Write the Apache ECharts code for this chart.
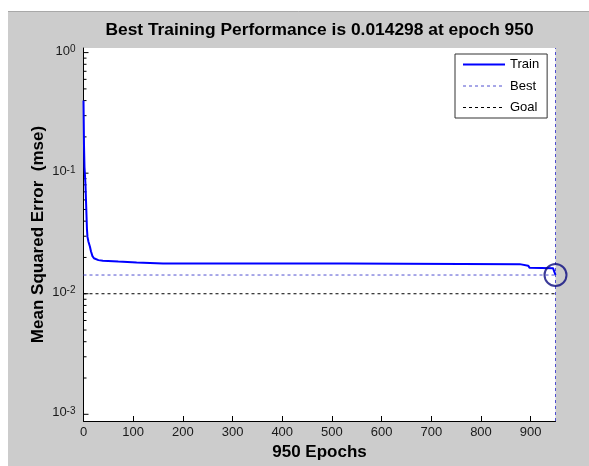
<!DOCTYPE html>
<html>
<head>
<meta charset="utf-8">
<script src="https://cdn.jsdelivr.net/npm/echarts@6/dist/echarts.min.js"></script>
<style>
  html, body { margin: 0; padding: 0; background: #ffffff; }
  #chart { width: 589px; height: 466px; }
</style>
</head>
<body>
<div id="chart"></div>
<script>
// Training record: epoch numbers and mean squared error at each one
const epochs   = [0, 1, 2, 3, 4, 5, 6, 7, 8, 10, 13, 15, 18, 21, 25, 30, 39, 70, 107, 160, 527, 530, 878, 882, 895, 898, 945, 950];
const trainMse = [0.40, 0.17, 0.112, 0.095, 0.080, 0.060, 0.045, 0.034, 0.0296, 0.027, 0.0245, 0.0225, 0.0205, 0.0197, 0.0192, 0.0190, 0.0188, 0.0185, 0.0182, 0.0178, 0.0178, 0.0176, 0.0176, 0.0171, 0.0171, 0.0164, 0.0163, 0.014298];

// Best epoch, goal and axis ranges
const bestEpoch = 950;
const bestMse = 0.014298;
const goalMse = 0.01;
const xRange = [0, 950];
const yRange = [0.00088, 1.092];
const xTickStep = 100;

// Tick marks on the log axis: decades and the 2..9 steps between them
const yDecades = [0.001, 0.01, 0.1, 1];
const yMinorSteps = [2, 3, 4, 5, 6, 7, 8, 9];

const FONT = "'Liberation Sans', Arial, Helvetica, sans-serif";

const trainData = epochs.map((e, i) => [e, trainMse[i]]);
const bestData = [[xRange[0], bestMse], [bestEpoch, bestMse], '-', [bestEpoch, yRange[0]], [bestEpoch, yRange[1]]];
const goalData = [[xRange[0], goalMse], [xRange[1], goalMse]];

const yTickData = [];
yDecades.forEach((d, i) => {
  yTickData.push([xRange[0], d, 1]);
  if (i < yDecades.length - 1) yMinorSteps.forEach(s => yTickData.push([xRange[0], d * s, 0]));
});

function isDecade(v) {
  const l = Math.log10(v);
  return Math.abs(l - Math.round(l)) < 1e-6;
}

const chart = echarts.init(document.getElementById('chart'), null, { renderer: 'canvas' });

chart.setOption({
  animation: false,
  backgroundColor: '#ffffff',
  textStyle: { fontFamily: FONT },
  graphic: [
    { type: 'rect', z: -10, silent: true, shape: { x: 8, y: 11, width: 581, height: 455 }, style: { fill: '#cccccc' } },
    { type: 'line', z: -9, silent: true, shape: { x1: 8, y1: 11.5, x2: 589, y2: 11.5 }, style: { stroke: '#a8a8a8', lineWidth: 1 } }
  ],
  title: {
    text: 'Best Training Performance is 0.014298 at epoch 950',
    left: 319.5,
    textAlign: 'center',
    top: 22,
    padding: 0,
    textStyle: { fontFamily: FONT, fontSize: 17.4, fontWeight: 'bold', color: '#000000' }
  },
  legend: {
    data: ['Train', 'Best', 'Goal'],
    orient: 'vertical',
    left: 455,
    top: 54,
    padding: [4, 8, 4, 7],
    itemWidth: 42,
    itemHeight: 14,
    itemGap: 8.5,
    backgroundColor: '#ffffff',
    borderColor: '#333333',
    borderWidth: 1,
    borderRadius: 0,
    itemStyle: { opacity: 0, borderWidth: 0 },
    lineStyle: { width: 'inherit' },
    textStyle: { fontFamily: FONT, fontSize: 13, color: '#000000' }
  },
  grid: {
    left: 83.5,
    top: 48,
    width: 472,
    height: 373,
    show: true,
    backgroundColor: '#ffffff',
    borderWidth: 0
  },
  xAxis: {
    type: 'value',
    min: xRange[0],
    max: xRange[1],
    interval: xTickStep,
    name: '950 Epochs',
    nameLocation: 'middle',
    nameGap: 22,
    nameTextStyle: { fontFamily: FONT, fontSize: 17, fontWeight: 'bold', color: '#000000' },
    axisLine: { onZero: false, lineStyle: { color: '#000000', width: 1 } },
    axisTick: { inside: true, length: 5, lineStyle: { color: '#000000' } },
    axisLabel: { showMaxLabel: false, margin: 5, fontFamily: FONT, fontSize: 13, color: '#1a1a1a' },
    splitLine: { show: false }
  },
  yAxis: {
    type: 'log',
    logBase: 10,
    min: yRange[0],
    max: yRange[1],
    name: 'Mean Squared Error  (mse)',
    nameLocation: 'middle',
    nameGap: 37,
    nameMoveOverlap: false,
    nameTextStyle: { fontFamily: FONT, fontSize: 17, fontWeight: 'bold', color: '#000000' },
    axisLine: { lineStyle: { color: '#000000', width: 1 } },
    axisTick: { show: false },
    splitLine: { show: false },
    axisLabel: {
      margin: 8,
      padding: [0, 0, 3, 0],
      fontFamily: FONT,
      color: '#1a1a1a',
      formatter: function (v) {
        if (!isDecade(v)) return '';
        return '{b|10}{s|' + Math.round(Math.log10(v)) + '}';
      },
      rich: {
        b: { fontFamily: FONT, fontSize: 13, lineHeight: 13, padding: [3, 0, 0, 0], verticalAlign: 'bottom', color: '#1a1a1a' },
        s: { fontFamily: FONT, fontSize: 10, lineHeight: 10, verticalAlign: 'top', color: '#1a1a1a' }
      }
    }
  },
  series: [
    {
      name: 'Train',
      type: 'line',
      data: trainData,
      symbol: 'none',
      lineStyle: { color: '#0000ff', width: 2 },
      itemStyle: { color: '#0000ff' },
      z: 5
    },
    {
      name: 'Best',
      type: 'line',
      data: bestData,
      symbol: 'none',
      connectNulls: false,
      lineStyle: { color: '#4f4fd0', width: 1, type: [3, 3] },
      itemStyle: { color: '#4f4fd0' },
      z: 3
    },
    {
      name: 'Goal',
      type: 'line',
      data: goalData,
      symbol: 'none',
      lineStyle: { color: '#000000', width: 1, type: [3, 3] },
      itemStyle: { color: '#000000' },
      z: 3
    },
    {
      name: 'BestPoint',
      type: 'scatter',
      data: [[bestEpoch, bestMse]],
      symbol: 'circle',
      symbolSize: 22,
      itemStyle: { color: 'rgba(0,0,0,0)', borderColor: '#0a0a80', borderWidth: 2 },
      z: 6,
      silent: true
    },
    {
      name: 'yTicks',
      type: 'custom',
      data: yTickData,
      clip: false,
      silent: true,
      z: 4,
      renderItem: function (params, api) {
        const p = api.coord([api.value(0), api.value(1)]);
        const len = api.value(2) ? 5 : 3;
        return {
          type: 'line',
          shape: { x1: p[0], y1: p[1], x2: p[0] + len, y2: p[1] },
          style: { stroke: '#000000', lineWidth: 1 }
        };
      }
    }
  ]
});
</script>
</body>
</html>
